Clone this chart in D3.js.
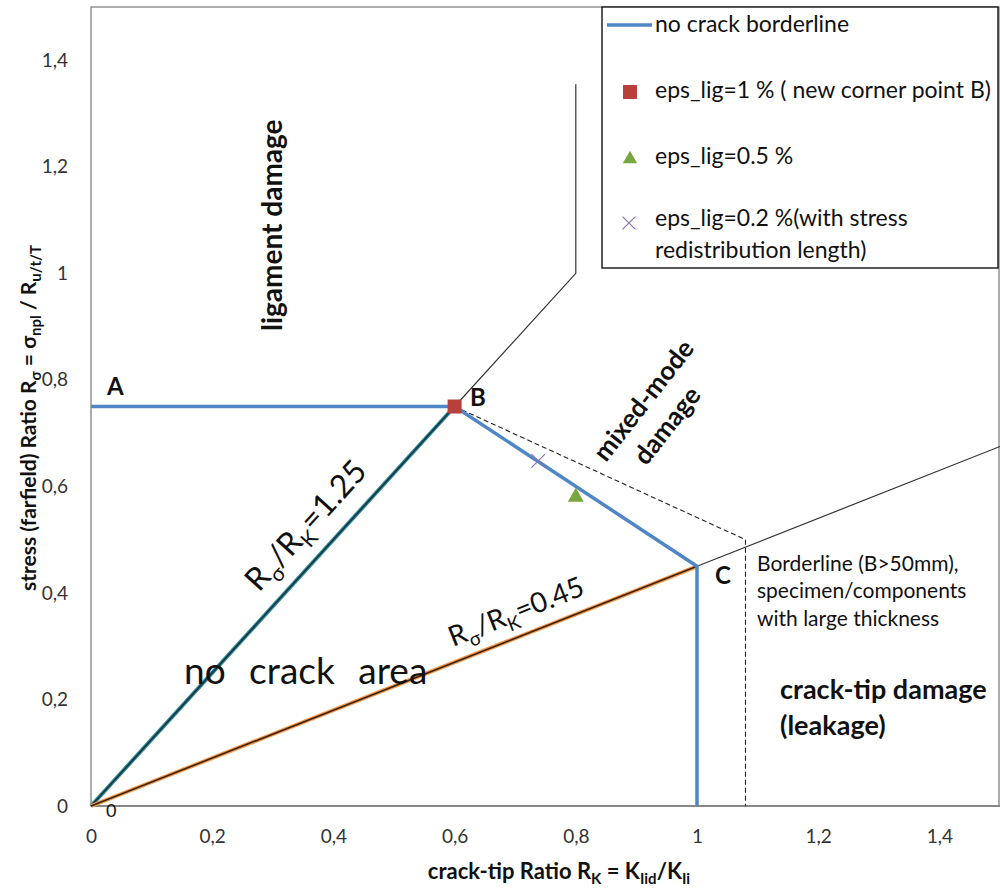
<!DOCTYPE html>
<html>
<head>
<meta charset="utf-8">
<script src="https://cdn.jsdelivr.net/npm/d3@7"></script>
<style>
  body { margin: 0; background: #fff; }
  svg { font-family: Lato, "Open Sans", sans-serif; }
</style>
</head>
<body>
<svg id="chart" width="1000" height="888"></svg>
<script>
// chart data
const xTicks = [0, 0.2, 0.4, 0.6, 0.8, 1, 1.2, 1.4]
const yTicks = [0, 0.2, 0.4, 0.6, 0.8, 1, 1.2, 1.4]
const borderline = [[0, 0.75], [0.6, 0.75], [1, 0.45], [1, 0]]
const ratio125 = [[0, 0], [0.6, 0.75]]
const ratio045 = [[0, 0], [1, 0.45]]
const extension125 = [[0.6, 0.75], [0.8, 1.0], [0.8, 1.355]]
const extension045 = [[1, 0.45], [1.5, 0.675]]
const thickBorder = [[0.6, 0.75], [1.08, 0.5], [1.08, 0]]
const pointB = [[0.6, 0.75]]
const pointEps05 = [[0.8, 0.58]]
const pointEps02 = [[0.738, 0.648]]

const svg = d3.select('#chart')
const x = d3.scaleLinear().domain([0, 1.5]).range([91, 1000])
const y = d3.scaleLinear().domain([0, 1.5]).range([806, 7])
const line = d3.line().x(d => x(d[0])).y(d => y(d[1]))
const fmt = d => String(d).replace('.', ',')

// plot border
svg.append('rect')
  .attr('x', x(0)).attr('y', y(1.5))
  .attr('width', x(1.5) - x(0) - 1).attr('height', y(0) - y(1.5))
  .style('fill', 'none').style('stroke', '#777').style('stroke-width', 1.2)
svg.append('line')
  .attr('x1', x(0)).attr('x2', x(1.5)).attr('y1', y(0)).attr('y2', y(0))
  .style('stroke', '#888').style('stroke-width', 2)

// axes (labels only)
svg.append('g').attr('transform', `translate(0,${y(0) + 20})`)
  .call(d3.axisBottom(x).tickValues(xTicks).tickFormat(fmt).tickSize(0))
svg.append('g').attr('transform', `translate(${x(0) - 20},0)`)
  .call(d3.axisLeft(y).tickValues(yTicks).tickFormat(fmt).tickSize(0))
svg.selectAll('.domain').remove()
svg.selectAll('.tick text')
  .style('font-family', 'Lato, "Open Sans", sans-serif')
  .style('font-size', '19px').style('fill', '#333')

// thin black extensions
svg.append('path').datum(extension125).attr('d', line)
  .style('fill', 'none').style('stroke', '#333').style('stroke-width', 1.2)
svg.append('path').datum(extension045).attr('d', line)
  .style('fill', 'none').style('stroke', '#333').style('stroke-width', 1.2)

// dashed borderline for large thickness
svg.append('path').datum(thickBorder).attr('d', line)
  .style('fill', 'none').style('stroke', '#222').style('stroke-width', 1.1)
  .style('stroke-dasharray', '5,3')

// ratio lines
svg.append('path').datum(ratio125).attr('d', line)
  .style('fill', 'none').style('stroke', '#2f8c9c').style('stroke-width', 4)
svg.append('path').datum(ratio125).attr('d', line)
  .style('fill', 'none').style('stroke', '#15333a').style('stroke-width', 1.6)
svg.append('path').datum(ratio045).attr('d', line)
  .style('fill', 'none').style('stroke', '#f79646').style('stroke-width', 4)
svg.append('path').datum(ratio045).attr('d', line)
  .style('fill', 'none').style('stroke', '#3a2410').style('stroke-width', 1.6)

// no crack borderline
svg.append('path').datum(borderline).attr('d', line)
  .style('fill', 'none').style('stroke', '#4f86c6').style('stroke-width', 3.5)

// markers
svg.selectAll('.sq').data(pointB).enter().append('rect')
  .attr('x', d => x(d[0]) - 7).attr('y', d => y(d[1]) - 7)
  .attr('width', 14).attr('height', 14).style('fill', '#b6403b')
svg.selectAll('.tri').data(pointEps05).enter().append('path')
  .attr('d', d3.symbol().type(d3.symbolTriangle).size(110))
  .attr('transform', d => `translate(${x(d[0])},${y(d[1])})`)
  .style('fill', '#79a63f')
svg.selectAll('.cross').data(pointEps02).enter().append('path')
  .attr('d', d3.symbol().type(d3.symbolTimes).size(120))
  .attr('transform', d => `translate(${x(d[0])},${y(d[1])})`)
  .style('fill', 'none').style('stroke', '#8a72b0').style('stroke-width', 1.2)

// annotations
const txt = (px, py, s, size, weight, rot) => svg.append('text')
  .attr('transform', `translate(${px},${py}) rotate(${rot || 0})`)
  .style('font-size', size + 'px').style('font-weight', weight || 'normal')
  .style('fill', '#111').text(s)

txt(107, 395, 'A', 24, 'bold')
txt(470, 406, 'B', 24, 'bold')
txt(715, 584, 'C', 24, 'bold')
txt(106, 817, '0', 18)
txt(282, 331, 'ligament damage', 28, 'bold', -90)

const mixed = svg.append('text')
  .attr('transform', 'translate(606,463) rotate(-52)')
  .style('font-size', '26px').style('font-weight', 'bold').style('fill', '#111')
mixed.append('tspan').attr('x', 0).attr('y', 0).text('mixed-mode')
mixed.append('tspan').attr('x', 22).attr('y', 34).text('damage')

txt(184, 684, 'no  crack  area', 37).style('word-spacing', '14px')

const r1 = svg.append('text')
  .attr('transform', 'translate(259,593) rotate(-47.7)')
  .style('font-size', '32px').style('fill', '#111')
r1.append('tspan').text('R')
r1.append('tspan').attr('dy', 8).style('font-size', '21px').text('σ')
r1.append('tspan').attr('dy', -8).text('/R')
r1.append('tspan').attr('dy', 8).style('font-size', '21px').text('K')
r1.append('tspan').attr('dy', -8).text('=1.25')

const r2 = svg.append('text')
  .attr('transform', 'translate(453,647) rotate(-21.6)')
  .style('font-size', '28px').style('fill', '#111')
r2.append('tspan').text('R')
r2.append('tspan').attr('dy', 7).style('font-size', '19px').text('σ')
r2.append('tspan').attr('dy', -7).text('/R')
r2.append('tspan').attr('dy', 7).style('font-size', '19px').text('K')
r2.append('tspan').attr('dy', -7).text('=0.45')

txt(757, 571, 'Borderline (B>50mm),', 21)
txt(757, 598, 'specimen/components', 21)
txt(757, 626, 'with large thickness', 21)
txt(780, 699, 'crack-tip damage', 27, 'bold')
txt(780, 735, '(leakage)', 27, 'bold')

// axis titles
const xt = svg.append('text').attr('x', 559).attr('y', 879)
  .attr('text-anchor', 'middle')
  .style('font-size', '22px').style('font-weight', 'bold').style('fill', '#111')
xt.append('tspan').text('crack-tip Ratio R')
xt.append('tspan').attr('dy', 5).style('font-size', '15px').text('K')
xt.append('tspan').attr('dy', -5).text(' = K')
xt.append('tspan').attr('dy', 5).style('font-size', '15px').text('Iid')
xt.append('tspan').attr('dy', -5).text('/K')
xt.append('tspan').attr('dy', 5).style('font-size', '15px').text('Ii')

const yt = svg.append('text')
  .attr('transform', 'translate(36,418) rotate(-90)')
  .attr('text-anchor', 'middle')
  .style('font-size', '21px').style('font-weight', 'bold').style('fill', '#111')
yt.append('tspan').text('stress (farfield) Ratio R')
yt.append('tspan').attr('dy', 5).style('font-size', '15px').text('σ')
yt.append('tspan').attr('dy', -5).text(' = σ')
yt.append('tspan').attr('dy', 5).style('font-size', '15px').text('npl')
yt.append('tspan').attr('dy', -5).text(' / R')
yt.append('tspan').attr('dy', 5).style('font-size', '15px').text('u/t/T')

// legend
const legend = svg.append('g').attr('transform', 'translate(602,7)')
legend.append('rect').attr('width', 396).attr('height', 261)
  .style('fill', '#fff').style('stroke', '#222').style('stroke-width', 1.5)
legend.append('line').attr('x1', 5).attr('x2', 50).attr('y1', 18).attr('y2', 18)
  .style('stroke', '#4f86c6').style('stroke-width', 3.5)
legend.append('rect').attr('x', 21).attr('y', 78).attr('width', 14).attr('height', 14)
  .style('fill', '#b6403b')
legend.append('path').attr('d', d3.symbol().type(d3.symbolTriangle).size(90))
  .attr('transform', 'translate(28,152)').style('fill', '#79a63f')
legend.append('path').attr('d', d3.symbol().type(d3.symbolTimes).size(110))
  .attr('transform', 'translate(27,216)')
  .style('fill', 'none').style('stroke', '#8a72b0').style('stroke-width', 1.2)
const legendItems = [
  ['no crack borderline', 25],
  ['eps_lig=1 % ( new corner point B)', 91],
  ['eps_lig=0.5 %', 157],
  ['eps_lig=0.2 %(with stress', 219],
  ['redistribution length)', 251]
]
legend.selectAll('.ltext').data(legendItems).enter().append('text')
  .attr('x', 53).attr('y', d => d[1])
  .style('font-size', '23px').style('fill', '#111').text(d => d[0])
</script>
</body>
</html>
